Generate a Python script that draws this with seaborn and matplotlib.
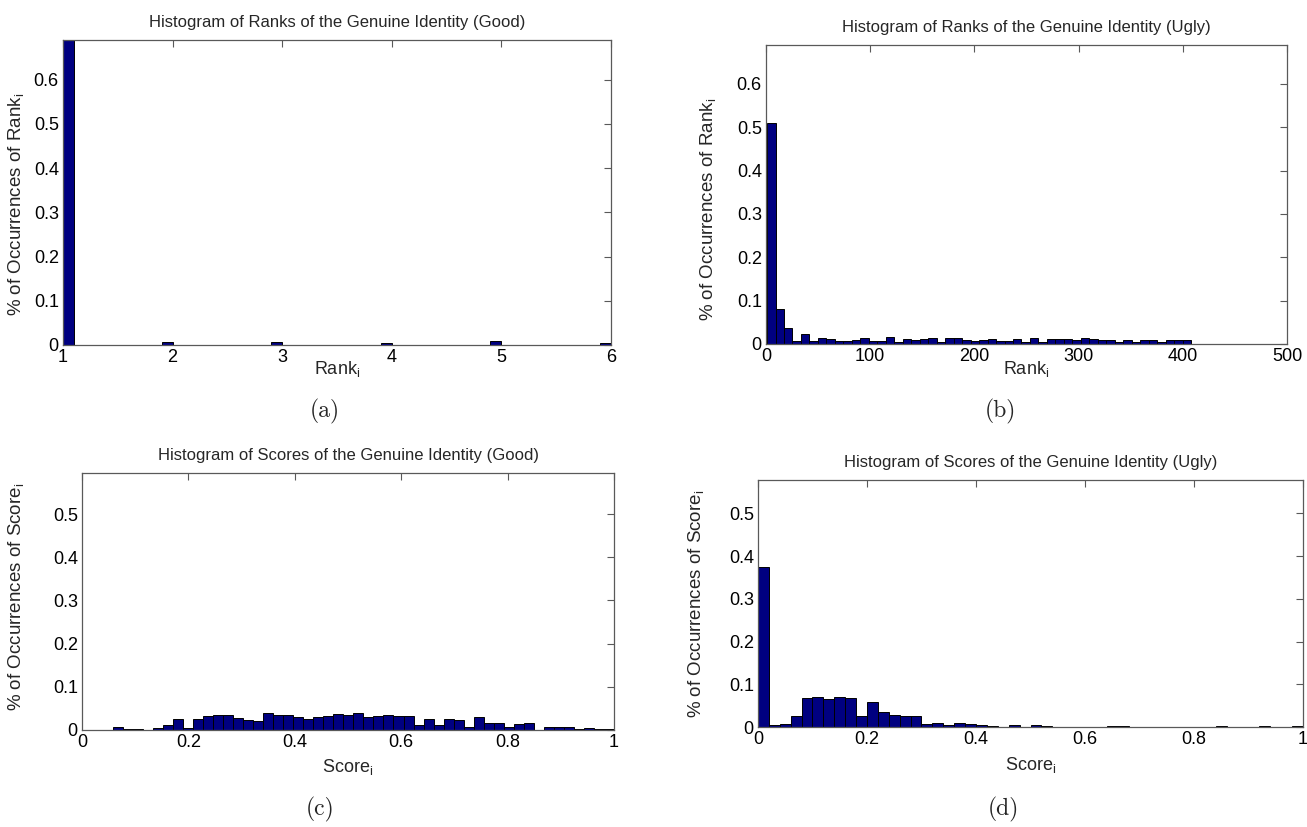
import numpy as np
import pandas as pd
import seaborn as sns
import matplotlib.pyplot as plt
from matplotlib import ticker

# ---- data (fraction of occurrences per histogram bin) ----
good_rank_values = [1, 2, 3, 4, 5, 6]
good_rank_freq = [0.971, 0.006, 0.006, 0.004, 0.009, 0.004]
good_rank_range = (1, 6)

ugly_rank_range = (1, 408)
ugly_rank_freq = [0.51, 0.081, 0.038, 0.008, 0.022, 0.006, 0.013, 0.011, 0.006, 0.006,
                  0.009, 0.013, 0.008, 0.007, 0.017, 0.005, 0.011, 0.009, 0.011, 0.014,
                  0.005, 0.014, 0.013, 0.009, 0.006, 0.009, 0.012, 0.007, 0.007, 0.011,
                  0.005, 0.014, 0.005, 0.012, 0.012, 0.012, 0.009, 0.014, 0.011, 0.009,
                  0.009, 0.005, 0.009, 0.005, 0.009, 0.009, 0.005, 0.009, 0.009, 0.009]

good_score_range = (0.058, 1.0)
good_score_freq = [0.006, 0.002, 0.002, 0.0, 0.004, 0.011, 0.025, 0.004, 0.026, 0.032,
                   0.035, 0.035, 0.027, 0.023, 0.020, 0.040, 0.035, 0.035, 0.030, 0.025,
                   0.030, 0.032, 0.037, 0.035, 0.039, 0.030, 0.032, 0.035, 0.032, 0.032,
                   0.011, 0.025, 0.011, 0.025, 0.023, 0.006, 0.030, 0.016, 0.016, 0.006,
                   0.014, 0.016, 0.0, 0.006, 0.008, 0.006, 0.002, 0.004, 0.002, 0.002]

ugly_score_range = (0.0, 1.0)
ugly_score_freq = [0.375, 0.005, 0.007, 0.025, 0.068, 0.071, 0.066, 0.071, 0.068, 0.025,
                   0.058, 0.035, 0.028, 0.025, 0.025, 0.007, 0.010, 0.005, 0.010, 0.007,
                   0.005, 0.002, 0.0, 0.005, 0.0, 0.005, 0.002, 0.0, 0.0, 0.0,
                   0.0, 0.0, 0.002, 0.002, 0.0, 0.0, 0.0, 0.0, 0.0, 0.0,
                   0.0, 0.0, 0.002, 0.0, 0.0, 0.0, 0.002, 0.0, 0.0, 0.003]

titles = ["Histogram of Ranks of the Genuine Identity (Good)",
          "Histogram of Ranks of the Genuine Identity (Ugly)",
          "Histogram of Scores of the Genuine Identity (Good)",
          "Histogram of Scores of the Genuine Identity (Ugly)"]
captions = ["(a)", "(b)", "(c)", "(d)"]

BAR = "#000080"
N_BINS = 50

sns.set_style("white")
plt.rcParams["font.family"] = ["Liberation Sans", "DejaVu Sans"]
plt.rcParams["mathtext.fontset"] = "custom"
plt.rcParams["mathtext.rm"] = "Liberation Sans"
plt.rcParams["mathtext.it"] = "Liberation Sans"


def matlab_centers(values, edges):
    # values sitting on a bin edge go to the lower bin, like MATLAB's hist
    idx = np.clip(np.digitize(values, edges, right=True), 1, len(edges) - 1)
    return (edges[idx - 1] + edges[idx]) / 2


def draw(ax, values, freq, edges):
    df = pd.DataFrame({"v": values, "w": freq})
    sns.histplot(data=df, x="v", weights="w", bins=list(edges), stat="count", color=BAR,
                 edgecolor="black", linewidth=0.7, alpha=1, ax=ax)


fig = plt.figure(figsize=(13.07, 8.27), dpi=100)
W, H = 1307, 827
boxes = [(63, 611, 40, 345), (766, 1287, 45, 344), (82, 614, 473, 730), (758, 1303, 480, 727)]
axes = []
for l, r, t, b in boxes:
    axes.append(fig.add_axes([l / W, 1 - b / H, (r - l) / W, (b - t) / H]))

# (a)
e = np.linspace(*good_rank_range, N_BINS + 1)
draw(axes[0], matlab_centers(np.array(good_rank_values, float), e), good_rank_freq, e)
# (b)
e = np.linspace(*ugly_rank_range, N_BINS + 1)
draw(axes[1], (e[:-1] + e[1:]) / 2, ugly_rank_freq, e)
# (c)
e = np.linspace(*good_score_range, N_BINS + 1)
draw(axes[2], (e[:-1] + e[1:]) / 2, good_score_freq, e)
# (d)
e = np.linspace(*ugly_score_range, N_BINS + 1)
draw(axes[3], (e[:-1] + e[1:]) / 2, ugly_score_freq, e)

xlims = [(1, 6), (0, 500), (0, 1), (0, 1)]
xticks = [np.arange(1, 7), np.arange(0, 501, 100), np.linspace(0, 1, 6), np.linspace(0, 1, 6)]
ylims = [0.69, 0.69, 0.595, 0.578]
yticks = [np.arange(0, 0.61, 0.1), np.arange(0, 0.61, 0.1), np.arange(0, 0.51, 0.1), np.arange(0, 0.51, 0.1)]
xnames = ["Rank$_{\\rm i}$", "Rank$_{\\rm i}$", "Score$_{\\rm i}$", "Score$_{\\rm i}$"]
ynames = ["% of Occurrences of Rank$_{\\rm i}$", "% of Occurrences of Rank$_{\\rm i}$",
          "% of Occurrences of Score$_{\\rm i}$", "% of Occurrences of Score$_{\\rm i}$"]
ylab_pos = [(-0.068, 0.46), (-0.093, 0.45), (-0.106, 0.52), (-0.096, 0.50)]
xlab_pos = [(0.5, -0.045), (0.5, -0.05), (0.5, -0.105), (0.5, -0.115)]

for i, ax in enumerate(axes):
    ax.set_xlim(*xlims[i])
    ax.set_ylim(0, ylims[i])
    ax.set_xticks(xticks[i])
    ax.set_yticks(yticks[i])
    ax.xaxis.set_major_formatter(ticker.FormatStrFormatter("%g"))
    ax.yaxis.set_major_formatter(ticker.FormatStrFormatter("%g"))
    ax.tick_params(direction="in", top=True, right=True, length=5, width=0.8,
                   color="0.35", labelcolor="black", labelsize=13, pad=3)
    for s in ax.spines.values():
        s.set_color("0.35")
        s.set_linewidth(0.9)
    ax.set_title(titles[i], fontsize=12, pad=9)
    ax.set_xlabel(xnames[i], fontsize=13)
    ax.set_ylabel(ynames[i], fontsize=13.5)
    ax.xaxis.set_label_coords(*xlab_pos[i])
    ax.yaxis.set_label_coords(*ylab_pos[i])

cap_pos = [(325, 411), (1000, 411), (320, 809), (1003, 809)]
for (cx, cy), c in zip(cap_pos, captions):
    fig.text(cx / W, 1 - cy / H, c, ha="center", va="center", family="cmr10", fontsize=17)

fig.savefig("out.png", dpi=100)
